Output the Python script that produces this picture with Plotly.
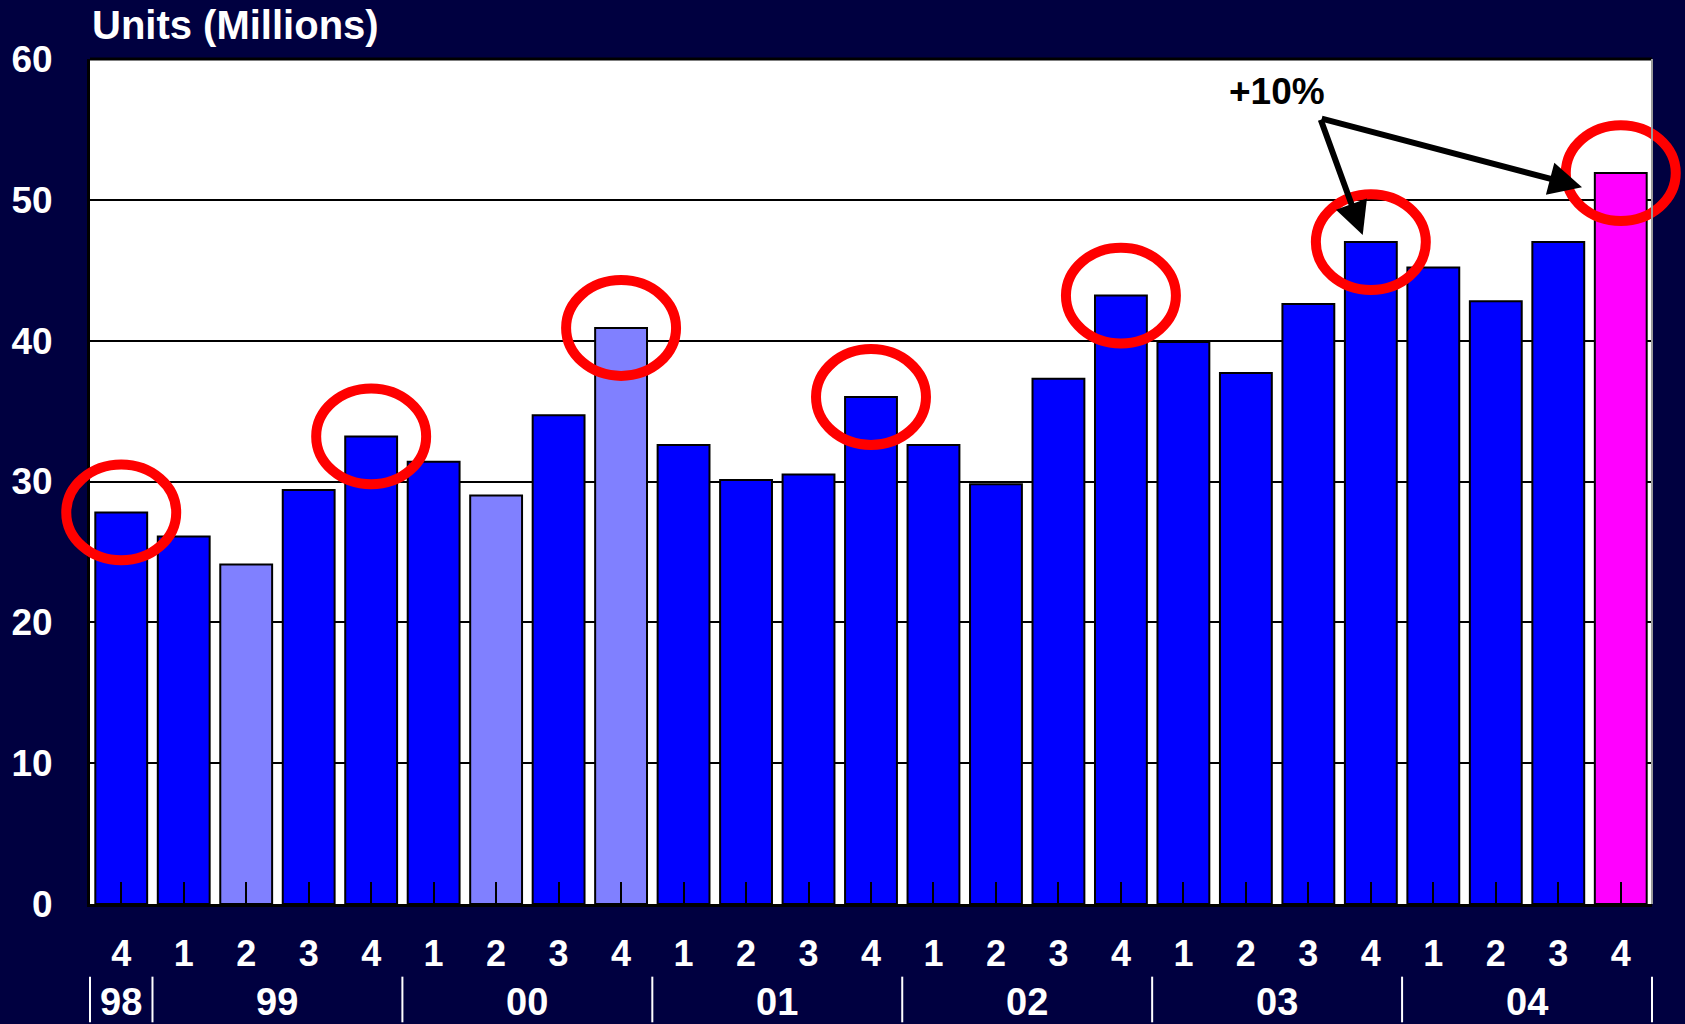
import plotly.graph_objects as go

# --- data ---
QUARTERS = ["4", "1", "2", "3", "4", "1", "2", "3", "4", "1", "2", "3", "4",
            "1", "2", "3", "4", "1", "2", "3", "4", "1", "2", "3", "4"]
UNITS = [27.8, 26.1, 24.1, 29.4, 33.2, 31.4, 29.0, 34.7, 40.9, 32.6, 30.1, 30.5, 36.0,
         32.6, 29.8, 37.3, 43.2, 39.9, 37.7, 42.6, 47.0, 45.2, 42.8, 47.0, 51.9]
BAR_KIND = ["n", "n", "l", "n", "n", "n", "l", "n", "l", "n", "n", "n", "n",
            "n", "n", "n", "n", "n", "n", "n", "n", "n", "n", "n", "m"]
YEARS = ["98", "99", "00", "01", "02", "03", "04"]
YEAR_BOUNDS = [0, 1, 5, 9, 13, 17, 21, 25]   # category boundaries of each year
CIRCLED = [0, 4, 8, 12, 16, 20, 24]          # every Q4

COLORS = {"n": "#0000FF", "l": "#8080FF", "m": "#FF00FF"}
BG = "#000040"
FONT = "Arial, Liberation Sans, sans-serif"
N = len(UNITS)
YMAX = 60

fig = go.Figure(go.Bar(
    x=list(range(N)),
    y=UNITS,
    marker=dict(color=[COLORS[k] for k in BAR_KIND], line=dict(color="black", width=2)),
    width=0.83,
    hoverinfo="y",
))

shapes = []
# red ellipses round the Q4 bars (paper refs so they are not clipped)
RX, RY = 0.88, 3.4
for i in CIRCLED:
    v = UNITS[i]
    shapes.append(dict(type="circle", xref="paper", yref="paper",
                       x0=(i + 0.5 - RX) / N, x1=(i + 0.5 + RX) / N,
                       y0=(v - RY) / YMAX, y1=(v + RY) / YMAX,
                       line=dict(color="#FF0000", width=10), layer="above"))
# year separators below the axis
for b in YEAR_BOUNDS:
    shapes.append(dict(type="line", xref="paper", yref="paper",
                       x0=b / N, x1=b / N, y0=-0.086, y1=-0.14,
                       line=dict(color="white", width=2)))
# frame: top black, right grey
shapes.append(dict(type="line", xref="paper", yref="paper", x0=0, x1=1, y0=1, y1=1,
                   line=dict(color="black", width=3)))
shapes.append(dict(type="line", xref="paper", yref="paper", x0=1, x1=1, y0=0, y1=1,
                   line=dict(color="#999999", width=2)))

annotations = []
for k, yr in enumerate(YEARS):
    annotations.append(dict(xref="paper", yref="paper",
                            x=(YEAR_BOUNDS[k] + YEAR_BOUNDS[k + 1]) / 2 / N, y=-0.116,
                            text=yr, showarrow=False, xanchor="center", yanchor="middle",
                            font=dict(family=FONT, size=38, color="white", weight="bold")))

annotations.append(dict(xref="paper", yref="paper", x=0, y=1.04, xanchor="left",
                        yanchor="middle", text="Units (Millions)", showarrow=False,
                        font=dict(family=FONT, size=40, color="white", weight="bold")))

annotations.append(dict(xref="x", yref="y", x=18.5, y=57.7, text="+10%", showarrow=False,
                        font=dict(family=FONT, size=37, color="black", weight="bold")))
# arrows from the label to 03Q4 and 04Q4
for tx, ty in [(19.87, 47.5), (23.38, 50.9)]:
    annotations.append(dict(xref="x", yref="y", axref="x", ayref="y",
                            x=tx, y=ty, ax=19.19, ay=55.8, text="",
                            showarrow=True, arrowhead=2, arrowsize=1.1,
                            arrowwidth=6, arrowcolor="black"))

fig.update_layout(
    width=1685, height=1024,
    paper_bgcolor=BG, plot_bgcolor="white",
    margin=dict(l=90, r=33, t=59, b=120),
    showlegend=False,
    shapes=shapes,
    annotations=annotations,
    xaxis=dict(range=[-0.5, N - 0.5], tickvals=list(range(N)), ticktext=QUARTERS,
               ticks="inside", ticklen=22, tickwidth=2, tickcolor="black",
               showline=True, linecolor="black", linewidth=3, automargin=False,
               showgrid=False, zeroline=False, ticklabelstandoff=16,
               tickfont=dict(family=FONT, size=36, color="white", weight="bold")),
    yaxis=dict(range=[0, YMAX], dtick=10, showgrid=True, gridcolor="black", gridwidth=2,
               showline=True, linecolor="black", linewidth=3, zeroline=False,
               ticks="", ticklabelstandoff=27, automargin=False,
               tickfont=dict(family=FONT, size=37, color="white", weight="bold")),
)

# drop the page's default body margin so the figure fills the window exactly
fig.write_html("out.html", config={"displayModeBar": False},
               post_script="document.body.style.margin='0';document.body.style.overflow='hidden';")
